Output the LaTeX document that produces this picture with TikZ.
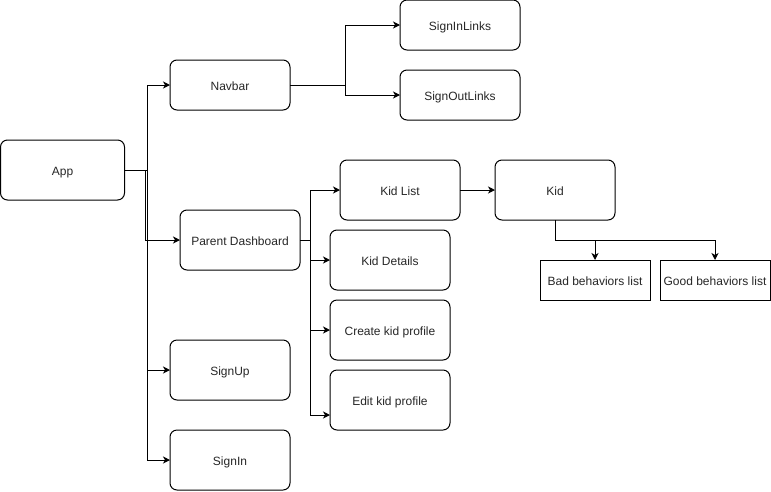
\documentclass[tikz,border=0pt]{standalone}
\usepackage{fontspec}
\setmainfont{Liberation Sans}
\usetikzlibrary{arrows.meta}
\begin{document}
\begin{tikzpicture}[x=1pt,y=-1pt,
  font=\fontsize{12}{14}\selectfont,
  box/.style={draw, line width=1pt, rounded corners=7pt, minimum width=120pt,
    minimum height=60pt, inner sep=0pt, outer sep=0pt, text=black!85,
    text height=12pt, text depth=2pt},
  flatbox/.style={draw, line width=1pt, minimum width=110pt, minimum height=40pt,
    inner sep=0pt, outer sep=0pt, text=black!85, text height=12pt, text depth=2pt},
  arr/.style={line width=1pt, -{Stealth[length=7pt,width=7pt,inset=2pt]}}]
\useasboundingbox (0,0) rectangle (771,491);

% top-level and navigation boxes
\node[box, minimum width=124pt] (app) at (62.5,170) {App};
\node[box, minimum height=50pt] (navbar) at (230,85) {Navbar};
\node[box, minimum height=50pt] (sil) at (460,25) {SignInLinks};
\node[box, minimum height=50pt] (sol) at (460,95) {SignOutLinks};
\node[box] (pd) at (240,240) {Parent Dashboard};
\node[box] (signup) at (230,370) {SignUp};
\node[box] (signin) at (230,460) {SignIn};

% dashboard children
\node[box] (kidlist) at (400,190) {Kid List};
\node[box] (kiddet) at (390,260) {Kid Details};
\node[box] (create) at (390,330) {Create kid profile};
\node[box] (edit) at (390,400) {Edit kid profile};
\node[box] (kid) at (555,190) {Kid};
\node[flatbox] (bad) at (595,280) {Bad behaviors list};
\node[flatbox] (good) at (715,280) {Good behaviors list};

% connectors from App
\draw[arr] (app.east) -- ++(23,0) |- (navbar.west);
\draw[arr] (app.east) -- ++(21,0) |- (pd.west);
\draw[arr] (app.east) -- ++(23,0) |- (signup.west);
\draw[arr] (app.east) -- ++(23,0) |- (signin.west);

% Navbar links
\draw[arr] (navbar.east) -- ++(55,0) |- (sil.west);
\draw[arr] (navbar.east) -- ++(55,0) |- (sol.west);

% dashboard links
\draw[arr] (pd.east) -- ++(10,0) |- (kidlist.west);
\draw[arr] (pd.east) -- ++(10,0) |- (kiddet.west);
\draw[arr] (pd.east) -- ++(10,0) |- (create.west);
\draw[arr] (pd.east) -- ++(10,0) |- ([yshift=-15pt]edit.west);

% kid links
\draw[arr] (kidlist.east) -- (kid.west);
\draw[arr] (kid.south) -- ++(0,20) -| (bad.north);
\draw[arr] (kid.south) -- ++(0,20) -| (good.north);
\end{tikzpicture}
\end{document}
